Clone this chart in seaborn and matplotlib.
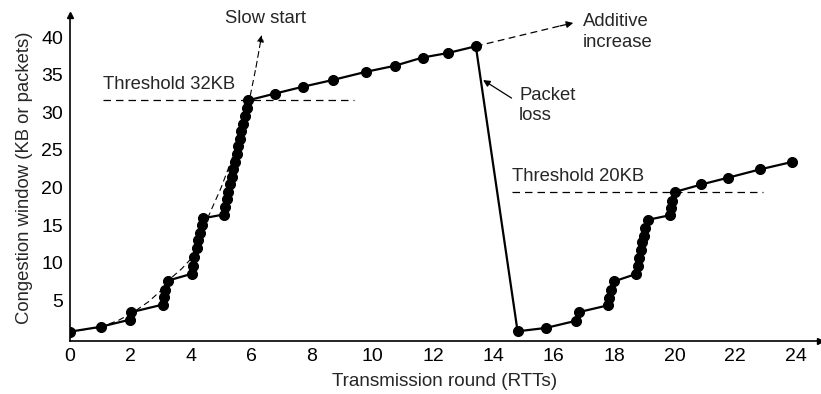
import matplotlib
matplotlib.use("Agg")
import matplotlib.pyplot as plt
import seaborn as sns
import pandas as pd

# congestion window trace (round, window)
rounds = [
    0.0, 1.01, 1.98, 2.03, 3.06, 3.10, 3.14, 3.24,
    4.02, 4.06, 4.11, 4.19, 4.24, 4.30, 4.35, 4.41,
    5.08, 5.13, 5.19, 5.24, 5.29, 5.35, 5.40, 5.46,
    5.51, 5.57, 5.62, 5.67, 5.73, 5.78, 5.84, 5.89,
    6.78, 7.69, 8.68, 9.79, 10.74, 11.66, 12.50, 13.42,
    14.80, 15.74, 16.73, 16.82, 17.78, 17.83, 17.88, 17.99,
    18.73, 18.79, 18.82, 18.88, 18.92, 18.97, 19.02, 19.12,
    19.83, 19.86, 19.91, 20.00, 20.88, 21.76, 22.81, 23.88,
]
window = [
    0.8, 1.45, 2.4, 3.4, 4.4, 5.4, 6.4, 7.6,
    8.5, 9.6, 10.8, 11.9, 13.0, 14.0, 15.0, 15.9,
    16.4, 17.4, 18.4, 19.4, 20.4, 21.4, 22.4, 23.4,
    24.5, 25.5, 26.5, 27.5, 28.5, 29.5, 30.6, 31.6,
    32.5, 33.4, 34.3, 35.4, 36.2, 37.3, 37.9, 38.8,
    0.85, 1.3, 2.25, 3.4, 4.3, 5.3, 6.3, 7.5,
    8.5, 9.5, 10.6, 11.7, 12.7, 13.6, 14.6, 15.7,
    16.3, 17.2, 18.2, 19.4, 20.4, 21.3, 22.4, 23.4,
]

# dashed slow-start guide
slow_x = [0.0, 1.0, 1.6, 2.1, 2.6, 3.1, 3.3, 3.7, 4.0, 4.45, 5.0, 5.67, 5.95, 6.15, 6.34]
slow_y = [0.8, 1.4, 2.3, 3.4, 4.8, 6.6, 7.8, 9.2, 10.5, 15.0, 20.0, 27.2, 32.0, 36.0, 40.3]

# thresholds: (label, y, x start, x end)
thr_labels = ["Threshold 32KB", "Threshold 20KB"]
thr_y = [31.7, 19.4]
thr_x0 = [1.1, 14.63]
thr_x1 = [9.39, 22.92]

xticks = list(range(0, 25))
xlabels = [str(t) if t % 2 == 0 else "" for t in xticks]
yticks = [5, 10, 15, 20, 25, 30, 35, 40]

sns.set_style("white")
plt.rcParams["font.family"] = ["Liberation Sans", "DejaVu Sans"]
plt.rcParams["font.size"] = 13.3

fig = plt.figure(figsize=(8.21, 3.94), dpi=100)
ax = fig.add_axes([70 / 821, 53.3 / 394, 750 / 821, 326 / 394])

df = pd.DataFrame({"round": rounds, "cwnd": window})
sns.lineplot(data=df, x="round", y="cwnd", sort=False, color="black",
             linewidth=1.6, marker="o", markersize=7.2,
             markeredgecolor="black", ax=ax, zorder=3)

dash = (0, (5.5, 3.5))
ax.plot(slow_x[:-1], slow_y[:-1], color="black", lw=0.8, linestyle=dash)
ax.annotate("", xy=(slow_x[-1], slow_y[-1]), xytext=(slow_x[-2], slow_y[-2]),
            arrowprops=dict(arrowstyle="-|>", color="black", lw=0.8,
                            linestyle=dash, mutation_scale=10,
                            shrinkA=0, shrinkB=0))
ax.text(6.45, 42.5, "Slow start", ha="center", va="center")

for lab, y, x0, x1 in zip(thr_labels, thr_y, thr_x0, thr_x1):
    ax.plot([x0, x1], [y, y], color="black", lw=0.9, linestyle=(0, (6, 4)))
    ax.text(x0, y + 0.9, lab, ha="left", va="bottom")

# additive increase
ax.plot([13.42, 16.3], [38.8, 41.6], color="black", lw=0.9, linestyle=dash)
ax.annotate("", xy=(16.64, 41.9), xytext=(16.2, 41.5),
            arrowprops=dict(arrowstyle="-|>", color="black", lw=0.9,
                            mutation_scale=10, shrinkA=0, shrinkB=0))
ax.text(16.95, 42.1, "Additive", ha="left", va="center")
ax.text(16.95, 39.3, "increase", ha="left", va="center")

# packet loss
ax.annotate("", xy=(13.66, 34.3), xytext=(14.6, 31.9),
            arrowprops=dict(arrowstyle="-|>", color="black", lw=0.9,
                            mutation_scale=10, shrinkA=0, shrinkB=0))
ax.text(14.85, 32.3, "Packet", ha="left", va="center")
ax.text(14.85, 29.6, "loss", ha="left", va="center")

ax.set_xlim(0, 24.8)
ax.set_ylim(-0.4, 43)
ax.set_xticks(xticks)
ax.set_xticklabels(xlabels)
ax.set_yticks(yticks)
ax.tick_params(direction="in", length=8, width=1, colors="black", pad=5,
               labelsize=14)
ax.set_xlabel("Transmission round (RTTs)", labelpad=6, fontsize=13.6)
ax.set_ylabel("Congestion window (KB or packets)", labelpad=6, fontsize=13.3)

sns.despine(ax=ax)
for s in ["left", "bottom"]:
    ax.spines[s].set_linewidth(1.2)
    ax.spines[s].set_color("black")
ax.plot(1, 0, ">", color="black", markersize=5, transform=ax.transAxes, clip_on=False)
ax.plot(0, 1, "^", color="black", markersize=5, transform=ax.transAxes, clip_on=False)

fig.savefig("out.png", dpi=100)
